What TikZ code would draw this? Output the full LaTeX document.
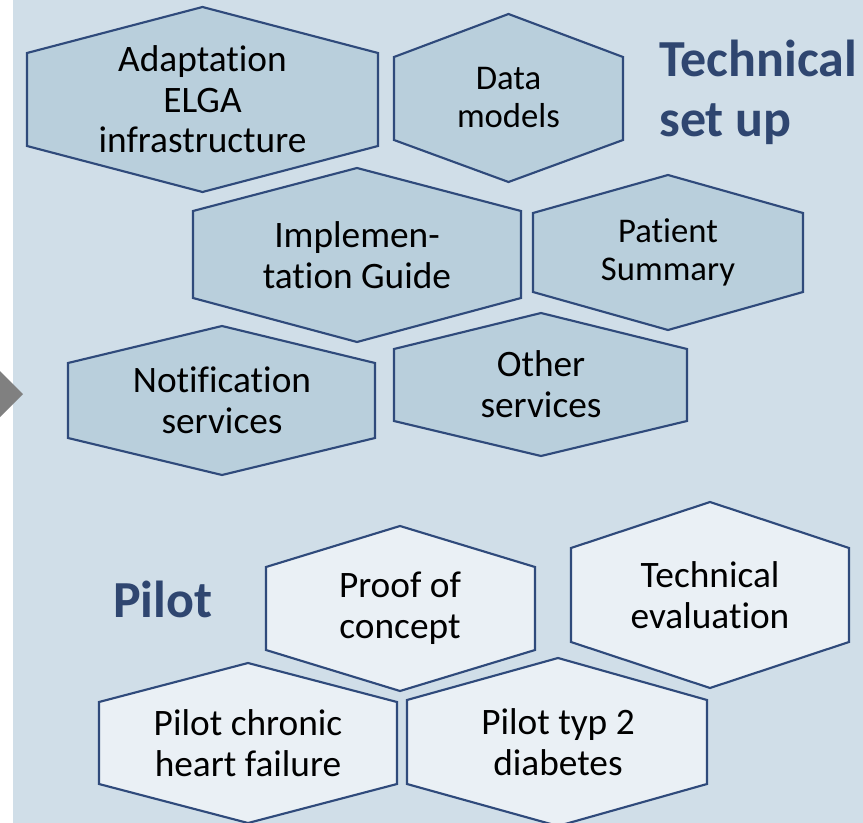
\documentclass[tikz,border=0pt]{standalone}
\usepackage{fontspec}
\setmainfont{Carlito}[Ligatures=NoCommon]
\usepackage{tikz}
\definecolor{panelbg}{HTML}{D0DEE8}
\definecolor{celldark}{HTML}{B9CFDC}
\definecolor{celllight}{HTML}{EAF0F5}
\definecolor{cellline}{HTML}{2F4A7B}
\definecolor{headblue}{HTML}{2F4670}

\begin{document}
\begin{tikzpicture}[x=0.75pt,y=-0.75pt,
    cellup/.style={draw=cellline,fill=celldark,line width=1.6pt,line join=miter},
    celllow/.style={draw=cellline,fill=celllight,line width=1.6pt,line join=miter},
    txt/.style={align=center,inner sep=0pt,font=\fontsize{28}{30.5}\selectfont},
    txtsmall/.style={align=center,inner sep=0pt,font=\fontsize{26}{28.5}\selectfont},
    heading/.style={align=left,inner sep=0pt,text=headblue,font=\fontsize{39}{45}\selectfont\bfseries}]
  \useasboundingbox (0,0) rectangle (863,823);
  \clip (0,0) rectangle (863,823);
  % panel and arrow tip
  \fill[panelbg] (13,0) rectangle (863,823);
  \fill[gray] (0,371) -- (23,394) -- (0,417) -- cycle;
  % technical set up
  \draw[cellup] (202.5,7) -- (378,53) -- (378,146) -- (202.5,192) -- (27,146) -- (27,53) -- cycle;
  \node[txt] (adapt) at (202.5,99.5) {Adaptation\\ELGA\\infrastructure};
  \draw[cellup] (508.5,14) -- (623,57) -- (623,140) -- (508.5,182) -- (394,140) -- (394,57) -- cycle;
  \node[txtsmall] (datamod) at (508.5,98) {Data\\models};
  \draw[cellup] (357,168) -- (521,211) -- (521,298) -- (357,342) -- (193,298) -- (193,211) -- cycle;
  \node[txt] (implguide) at (357,255) {Implemen-\\tation Guide};
  \draw[cellup] (668,175) -- (803,213) -- (803,292) -- (668,330) -- (533,292) -- (533,213) -- cycle;
  \node[txtsmall] (patsum) at (668,252.5) {Patient\\Summary};
  \draw[cellup] (222,326) -- (375,363) -- (375,438) -- (222,475) -- (68,438) -- (68,363) -- cycle;
  \node[txt] (notif) at (222,400.5) {Notification\\services};
  \draw[cellup] (541,313) -- (687,349) -- (687,421) -- (541,456) -- (394,421) -- (394,349) -- cycle;
  \node[txt] (othersrv) at (541,384.5) {Other\\services};
  \node[heading,anchor=base west] (techhead) at (659,137) {Technical\\set up};
  % pilot
  \draw[celllow] (400,526) -- (535,567) -- (535,650) -- (400,691) -- (266,650) -- (266,567) -- cycle;
  \node[txt] (proof) at (400,608.5) {Proof of\\concept};
  \draw[celllow] (710,502) -- (849,548) -- (849,642) -- (710,688) -- (571,642) -- (571,548) -- cycle;
  \node[txt] (techeval) at (710,595) {Technical\\evaluation};
  \draw[celllow] (248,663) -- (397,702) -- (397,784) -- (248,823) -- (99,784) -- (99,702) -- cycle;
  \node[txt] (chronic) at (248,743) {Pilot chronic\\heart failure};
  \draw[celllow] (558,658) -- (707,700) -- (707,784) -- (558,826) -- (407,784) -- (407,700) -- cycle;
  \node[txt] (diabetes) at (558,742) {Pilot typ 2\\diabetes};
  \node[heading,anchor=base west] (pilothead) at (113,617) {Pilot};
\end{tikzpicture}
\end{document}
